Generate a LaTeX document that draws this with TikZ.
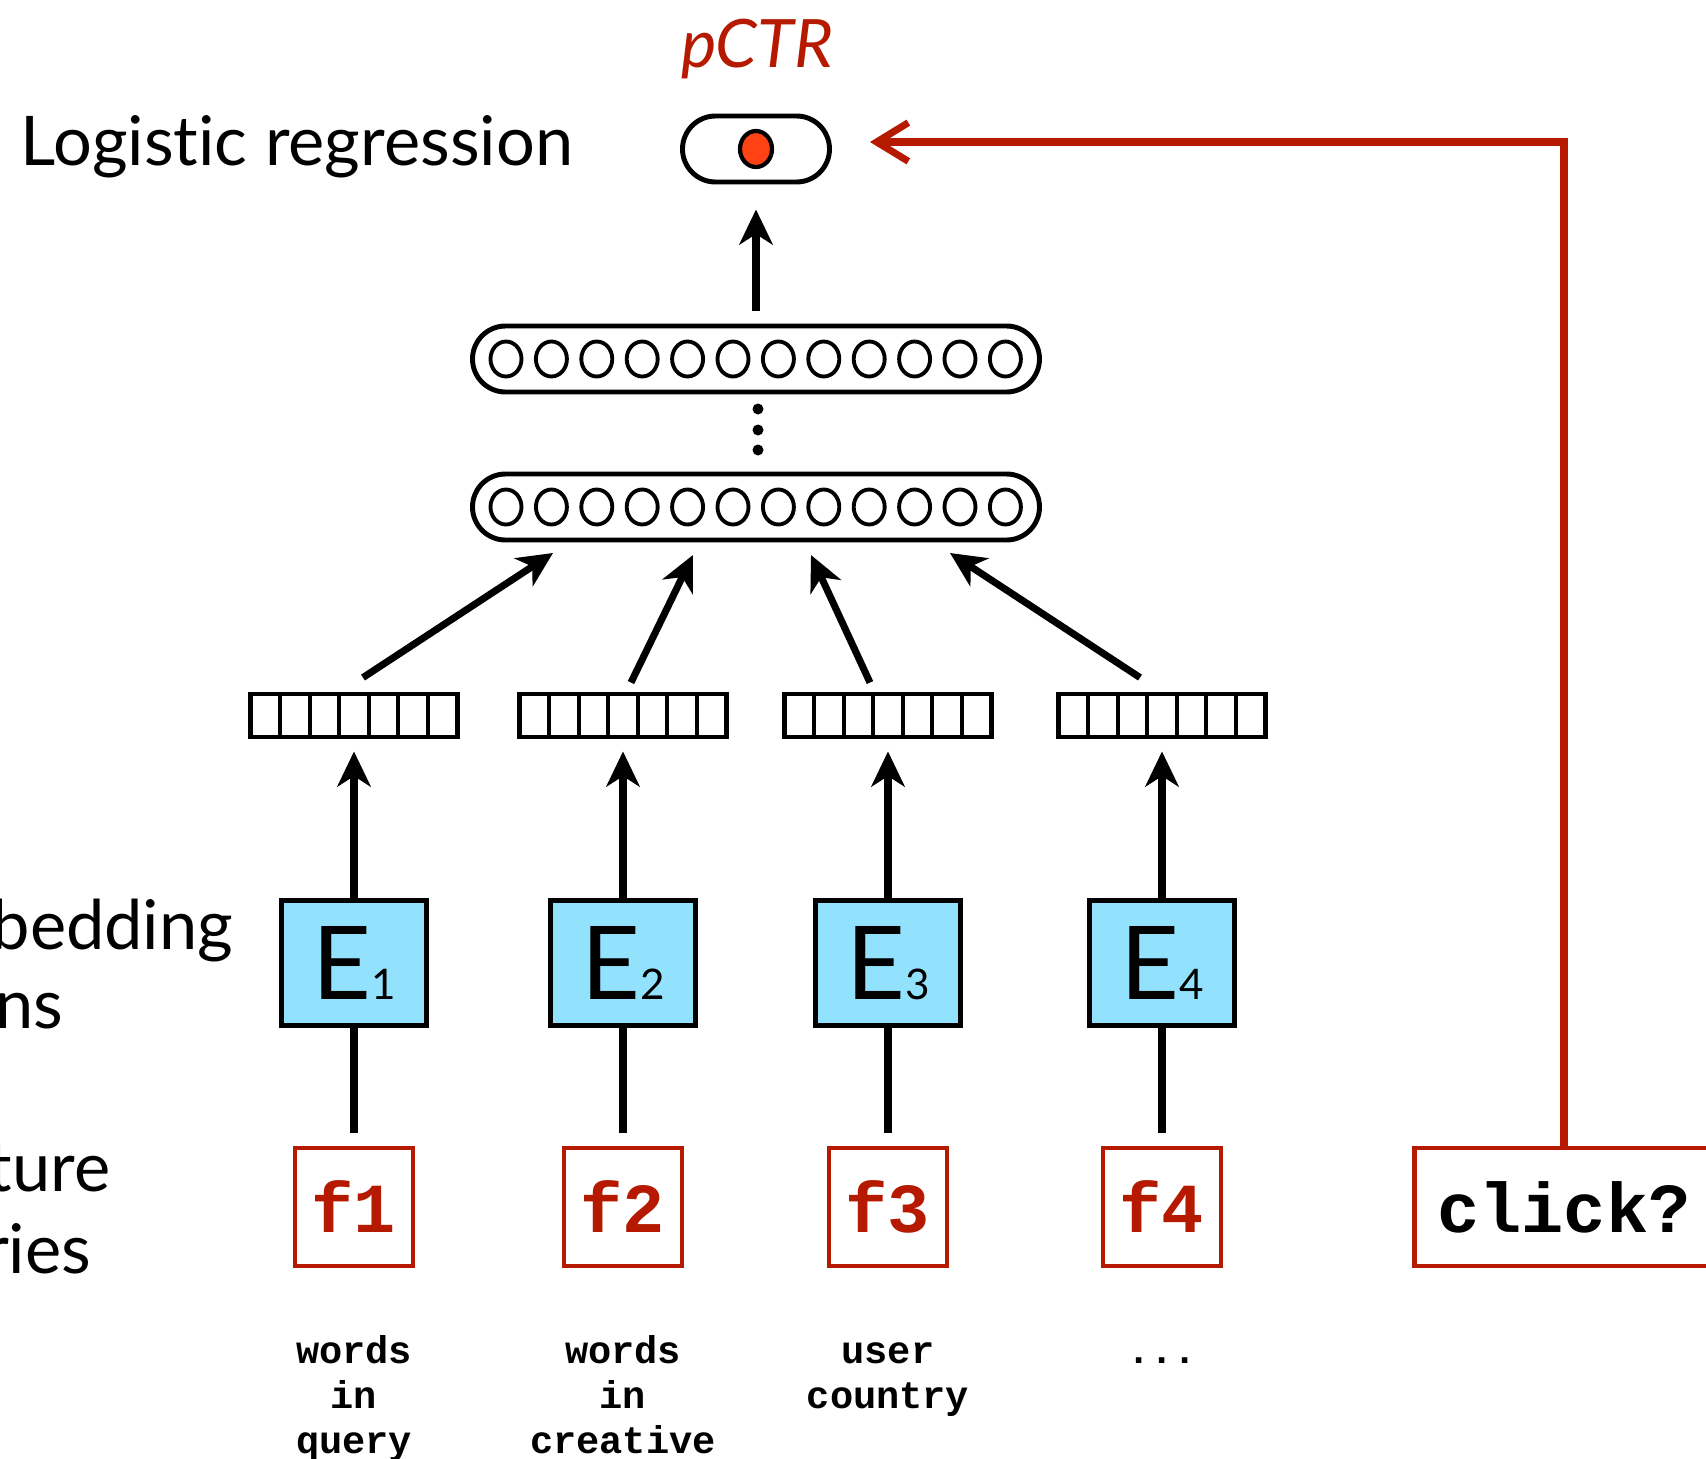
\documentclass[tikz,border=0pt]{standalone}
\usepackage{fontspec}
\setmainfont{Lato}[Ligatures=NoCommon]
\setmonofont{Liberation Mono}
\usetikzlibrary{arrows.meta,shapes.misc,positioning}
\definecolor{darkred}{HTML}{B51A00}
\definecolor{embblue}{HTML}{93E2FD}
\definecolor{dotred}{HTML}{FF4214}
\begin{document}
\begin{tikzpicture}[x=0.1mm,y=-0.1mm,
  arr/.style={line width=2pt,-{Stealth[length=10pt,width=9.5pt,inset=3pt]}},
  link/.style={line width=2pt},
  back/.style={line width=2pt,darkred,-{Straight Barb[length=9pt,width=11pt]}},
  hidlayer/.style={rounded rectangle,draw,line width=1.4pt,minimum width=56.7mm,minimum height=6.6mm,inner sep=0pt},
  vecbox/.style={draw,line width=1.4pt,minimum width=20.7mm,minimum height=4.3mm,inner sep=0pt},
  embbox/.style={draw,line width=1.4pt,fill=embblue,minimum width=14.5mm,minimum height=12.5mm,inner sep=0pt,font=\fontsize{29}{29}\selectfont},
  featbox/.style={draw=darkred,line width=1.4pt,minimum width=11.8mm,minimum height=11.8mm,inner sep=0pt,text=darkred,font=\fontsize{20}{20}\selectfont\ttfamily\bfseries},
  catlabel/.style={align=center,inner sep=0pt,font=\fontsize{11}{12.8}\selectfont\ttfamily\bfseries},
  sidelabel/.style={inner sep=0pt,font=\fontsize{19.5}{22}\selectfont}]
  \useasboundingbox (0,0) rectangle (1706,1459);
  \node[hidlayer,minimum width=14.7mm] (out) at (756,149) {};
  \draw[line width=1.2pt,fill=dotred] (out.center) ellipse (16 and 18);
  \node[anchor=base,inner sep=0pt,text=darkred,font=\fontsize{19}{19}\selectfont\itshape] (pctr) at (757,67) {pCTR};
  \node[sidelabel,anchor=base west] (logreg) at (20,165) {Logistic regression};
  \node[hidlayer] (h2) at (756,359) {};
  \node[hidlayer] (h1) at (756,507) {};
  \foreach \y in {359,507}
    \foreach \k in {0,...,11}
      \draw[line width=1.1pt] ({506+\k*45.4},\y) ellipse (15.5 and 17.5);
  \foreach \y in {409,430,450}
    \fill (758,\y) circle (5.5);
  \draw[arr,shorten <=1.3mm,shorten >=2.5mm] (h2) -- (out);
  \foreach \i/\cx/\by/\txt in {1/354/1453/{words\\in\\query},2/623/1453/{words\\in\\creative},3/888/1408/{user\\country},4/1162/1363/{...}} {
    \node[featbox] (f\i) at (\cx,1207) {f\i};
    \node[embbox] (e\i) at (\cx,963) {E{\fontsize{12}{12}\selectfont\i}};
    \node[vecbox] (v\i) at (\cx,715.5) {};
    \foreach \k in {-2.5,-1.5,...,2.5}
      \draw[line width=1.1pt] ({\cx+\k*29.6},694) -- ({\cx+\k*29.6},737);
    \draw[link,shorten <=1.3mm] (f\i) -- (e\i);
    \draw[arr,shorten >=1.2mm] (e\i) -- (v\i);
    \node[catlabel,anchor=base] (c\i) at (\cx,\by) {\txt};
  }
  \coordinate (in1) at (553,553);
  \coordinate (in2) at (693,555);
  \coordinate (in3) at (811,555);
  \coordinate (in4) at (950,553);
  \draw[arr] (v1.north) ++(9,-14) -- (in1);
  \draw[arr] (v2.north) ++(8,-9) -- (in2);
  \draw[arr] (v3.north) ++(-18,-9) -- (in3);
  \draw[arr] (v4.north) ++(-22,-14) -- (in4);
  \node[featbox,text=black,minimum width=29.9mm] (click) at (1564,1207) {click?};
  \draw[back,shorten >=3.8mm] (click.north) |- ([yshift=0.7mm]out.east);
  \node[sidelabel,anchor=base east] (emb1) at (234,949) {bedding};
  \node[sidelabel,anchor=base east] (emb2) at (64,1028) {ns};
  \node[sidelabel,anchor=base east] (feat1) at (111,1191) {ture};
  \node[sidelabel,anchor=base east] (feat2) at (92,1273) {ries};
\end{tikzpicture}
\end{document}
